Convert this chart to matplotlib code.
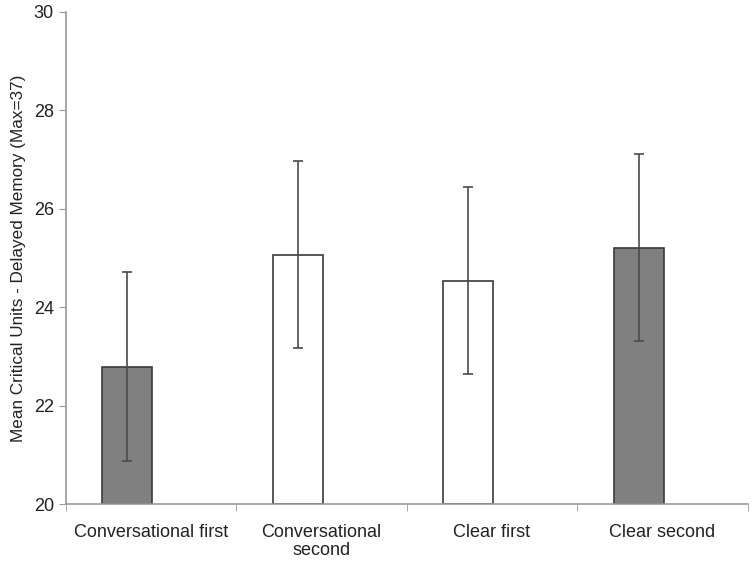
import numpy as np
import matplotlib
matplotlib.use('Agg')
import matplotlib.pyplot as plt

plt.rcParams['font.family'] = ['Liberation Sans', 'DejaVu Sans']

## Dane
categories = ['Conversational first', 'Conversational\nsecond', 'Clear first', 'Clear second']
means = [22.79, 25.07, 24.54, 25.21]
errors = [1.92, 1.90, 1.90, 1.90]
colors = ['#808080', 'white', 'white', '#808080']

fig = plt.figure(figsize=(7.56, 5.64), dpi=100)
ax = fig.add_axes([0.087, 0.106, 0.902, 0.873])

## Słupki przesunięte w lewo względem środka kategorii (jak w Excelu)
x = np.arange(len(categories))
xb = x - 0.14
ax.bar(xb, np.array(means) - 20, width=0.293, bottom=20, color=colors,
       edgecolor='#3a3a3a', linewidth=1.2, zorder=2)
ax.errorbar(xb, means, yerr=errors, fmt='none', ecolor='#4a4a4a',
            elinewidth=1.2, capsize=3.5, capthick=1.2, zorder=3)

ax.set_xlim(-0.5, 3.5)
ax.set_ylim(20, 30)
ax.set_yticks(np.arange(20, 31, 2))
ax.set_xticks(x)
ax.set_xticklabels(categories, fontsize=13, color='#222222', linespacing=1.1)
ax.set_xticks(np.arange(-0.5, 3.6, 1), minor=True)
ax.tick_params(axis='x', which='major', length=0, pad=14)
ax.tick_params(axis='x', which='minor', length=5, color='#999999')
ax.tick_params(axis='y', labelsize=13, labelcolor='#222222', length=5, color='#999999')
ax.set_ylabel('Mean Critical Units - Delayed Memory (Max=37)', fontsize=12.3,
              color='#222222', labelpad=6)

for s in ['top', 'right']:
    ax.spines[s].set_visible(False)
for s in ['left', 'bottom']:
    ax.spines[s].set_color('#999999')
    ax.spines[s].set_linewidth(1.2)

fig.savefig('out.png', dpi=100)
